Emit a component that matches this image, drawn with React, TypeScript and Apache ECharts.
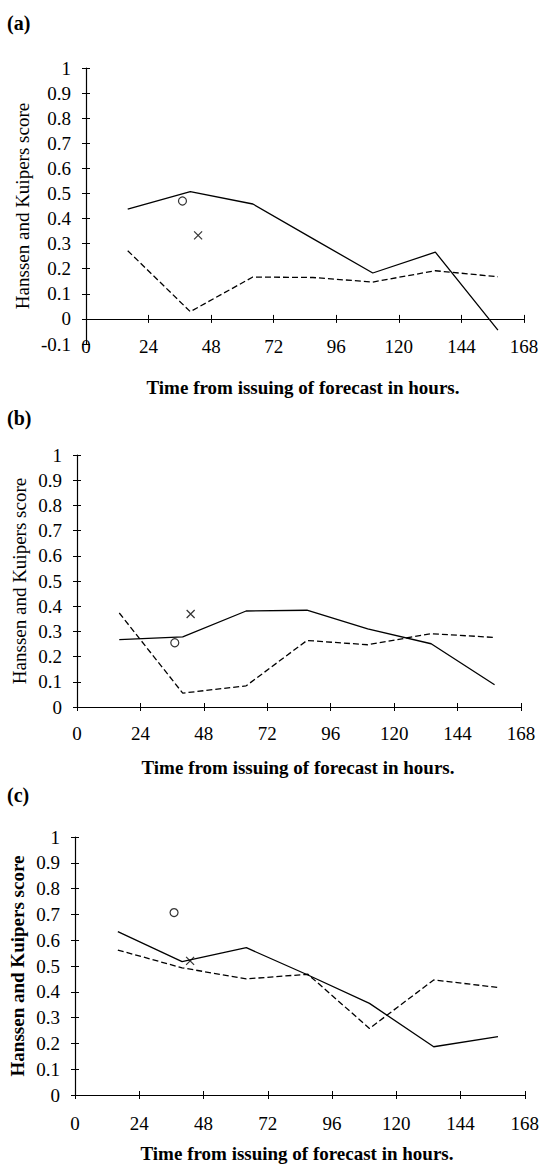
import React, { useEffect, useRef } from "react";
import * as echarts from "echarts";

// Forecast lead times (hours) at which the scores were computed
const hours = [16, 40, 64, 87, 110, 134, 158];

// Panel (a)
const solidA = [0.438, 0.507, 0.458, 0.32, 0.183, 0.266, -0.045];
const dashedA = [0.272, 0.029, 0.167, 0.165, 0.147, 0.192, 0.168];
const circleA = [37, 0.47];
const crossA = [43, 0.333];

// Panel (b)
const solidB = [0.267, 0.278, 0.381, 0.384, 0.31, 0.251, 0.088];
const dashedB = [0.373, 0.055, 0.084, 0.264, 0.247, 0.291, 0.276];
const circleB = [37, 0.255];
const crossB = [43, 0.369];

// Panel (c)
const solidC = [0.633, 0.517, 0.571, 0.465, 0.355, 0.187, 0.226];
const dashedC = [0.562, 0.493, 0.45, 0.468, 0.258, 0.446, 0.417];
const circleC = [37, 0.707];
const crossC = [43, 0.52];

const panelLabels = ["(a)", "(b)", "(c)"];
const yMins = [-0.1, 0, 0];
const yMax = 1;
const yInterval = 0.1;
const xMin = 0;
const xMax = 168;
const xInterval = 24;
const xTitle = "Time from issuing of forecast in hours.";
const yTitle = "Hanssen and Kuipers score";

const FONT = "'Liberation Serif', 'Times New Roman', serif";

export default function App() {
  const ref = useRef<HTMLDivElement>(null);

  useEffect(() => {
    document.body.style.margin = "0";
    const chart = echarts.init(ref.current!, null, { renderer: "svg" });

    const solids = [solidA, solidB, solidC];
    const dashes = [dashedA, dashedB, dashedC];
    const circles = [circleA, circleB, circleC];
    const crosses = [crossA, crossB, crossC];

    const grids = [
      { left: 86, top: 68, width: 438, height: 276 },
      { left: 77, top: 455, width: 444, height: 252 },
      { left: 75, top: 837, width: 450, height: 258 },
    ];
    const labelMargins = [2, 26, 28];
    const panelLabelPos = [
      [7, 23],
      [7, 418],
      [7, 795],
    ];
    const yTitlePos = [
      [22.5, 206],
      [19, 581],
      [17, 966],
    ];
    const xTitlePos = [
      [303, 387],
      [298, 767],
      [297, 1153],
    ];

    const xAxes: any[] = [];
    const yAxes: any[] = [];
    const series: any[] = [];
    const graphics: any[] = [];
    const black = "#000";

    grids.forEach((g, i) => {
      const base = {
        type: "value",
        gridIndex: i,
        min: xMin,
        max: xMax,
        interval: xInterval,
        splitLine: { show: false },
      };
      // main x axis line on y=0, outer ticks
      xAxes.push({
        ...base,
        position: "bottom",
        axisLine: { show: true, onZero: true, onZeroAxisIndex: 2 * i, lineStyle: { color: black, width: 1.2 } },
        axisTick: { show: true, length: 4, inside: false, lineStyle: { color: black, width: 1 } },
        axisLabel: { show: false },
      });
      // inner ticks
      xAxes.push({
        ...base,
        position: "bottom",
        axisLine: { show: false, onZero: true, onZeroAxisIndex: 2 * i },
        axisTick: { show: true, length: 4, inside: true, lineStyle: { color: black, width: 1 } },
        axisLabel: { show: false },
      });
      // labels at grid bottom
      xAxes.push({
        ...base,
        position: "bottom",
        axisLine: { show: false, onZero: false },
        axisTick: { show: false },
        axisLabel: {
          show: true,
          margin: labelMargins[i],
          verticalAlign: "middle",
          color: black,
          fontFamily: FONT,
          fontSize: 19,
        },
      });

      const ybase = {
        type: "value",
        gridIndex: i,
        min: yMins[i],
        max: yMax,
        interval: yInterval,
        position: "left",
        splitLine: { show: false },
      };
      yAxes.push({
        ...ybase,
        axisLine: { show: true, onZero: false, lineStyle: { color: black, width: 1.2 } },
        axisTick: { show: true, length: 4, inside: false, lineStyle: { color: black, width: 1 } },
        axisLabel: { show: true, margin: 15, color: black, fontFamily: FONT, fontSize: 19 },
      });
      yAxes.push({
        ...ybase,
        axisLine: { show: false, onZero: false },
        axisTick: { show: true, length: 4, inside: true, lineStyle: { color: black, width: 1 } },
        axisLabel: { show: false },
      });

      const xi = 3 * i;
      const yi = 2 * i;
      series.push({
        type: "line",
        xAxisIndex: xi,
        yAxisIndex: yi,
        data: hours.map((h, k) => [h, solids[i][k]]),
        symbol: "none",
        lineStyle: { color: black, width: 1.3, type: "solid" },
        clip: false,
        z: 5,
      });
      series.push({
        type: "line",
        xAxisIndex: xi,
        yAxisIndex: yi,
        data: hours.map((h, k) => [h, dashes[i][k]]),
        symbol: "none",
        lineStyle: { color: black, width: 1.3, type: [6, 3] },
        z: 5,
      });
      series.push({
        type: "scatter",
        xAxisIndex: xi,
        yAxisIndex: yi,
        data: [circles[i]],
        symbol: "circle",
        symbolSize: 8,
        itemStyle: { color: "#fff", borderColor: black, borderWidth: 1.2 },
        z: 6,
      });
      series.push({
        type: "scatter",
        xAxisIndex: xi,
        yAxisIndex: yi,
        data: [crosses[i]],
        symbol: "path://M0 0L10 10M10 0L0 10",
        symbolSize: 8,
        itemStyle: { color: "transparent", borderColor: black, borderWidth: 1.2 },
        z: 6,
      });

      graphics.push({
        type: "text",
        x: panelLabelPos[i][0],
        y: panelLabelPos[i][1],
        style: {
          text: panelLabels[i],
          fill: black,
          font: `bold 20px ${FONT}`,
          align: "left",
          verticalAlign: "middle",
        },
      });
      graphics.push({
        type: "text",
        x: yTitlePos[i][0],
        y: yTitlePos[i][1],
        rotation: Math.PI / 2,
        style: {
          text: yTitle,
          fill: black,
          font: `${i === 2 ? "bold " : ""}19px ${FONT}`,
          align: "center",
          verticalAlign: "middle",
        },
      });
      graphics.push({
        type: "text",
        x: xTitlePos[i][0],
        y: xTitlePos[i][1],
        style: {
          text: xTitle,
          fill: black,
          font: `bold 19px ${FONT}`,
          align: "center",
          verticalAlign: "middle",
        },
      });
    });

    chart.setOption({
      animation: false,
      backgroundColor: "#fff",
      grid: grids,
      xAxis: xAxes,
      yAxis: yAxes,
      series,
      graphic: graphics,
    });

    return () => chart.dispose();
  }, []);

  return <div ref={ref} style={{ width: 542, height: 1164 }} />;
}
